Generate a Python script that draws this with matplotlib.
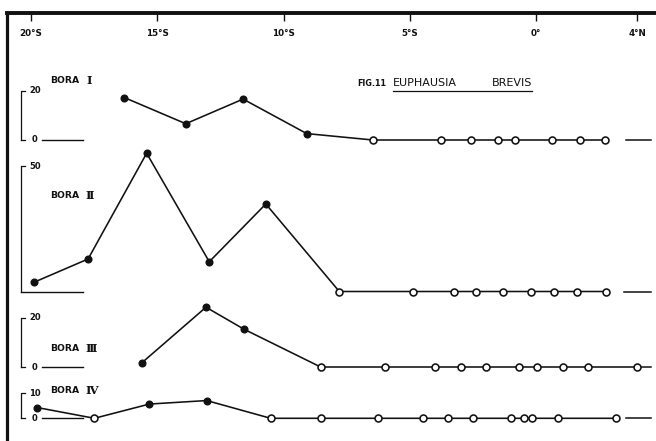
import matplotlib
matplotlib.use('Agg')
import matplotlib.pyplot as plt
import matplotlib.transforms as mtransforms

W, H = 656, 441
INK = '#111111'
FONT = ['DejaVu Sans']

# ---------------- data ----------------
lat_ticks = [-20, -15, -10, -5, 0, 4]
lat_tick_labels = ['20°S', '15°S', '10°S', '5°S', '0°', '4°N']

bora1_lat = [-16.3, -13.87, -11.6, -9.08, -6.46, -3.76, -2.57, -1.50, -0.83, 0.63, 1.74, 2.73]
bora1_val = [17.2, 6.6, 16.6, 2.6, 0, 0, 0, 0, 0, 0, 0, 0]

bora2_lat = [-19.88, -17.74, -15.42, -12.94, -10.7, -7.79, -4.88, -3.26, -2.38, -1.29, -0.20, 0.70, 1.61, 2.77]
bora2_val = [3.7, 13.0, 55.3, 11.9, 35.0, 0, 0, 0, 0, 0, 0, 0, 0, 0]

bora3_lat = [-15.6, -13.07, -11.56, -8.53, -5.97, -4.0, -2.97, -1.97, -0.69, 0.03, 1.06, 2.05, 3.99]
bora3_val = [1.8, 24.4, 15.4, 0, 0, 0, 0, 0, 0, 0, 0, 0, 0]

bora4_lat = [-19.75, -17.49, -15.31, -13.04, -10.51, -8.53, -6.27, -4.46, -3.50, -2.51, -0.99, -0.49, -0.16, 0.88, 3.17]
bora4_val = [4.3, 0, 5.7, 7.1, 0, 0, 0, 0, 0, 0, 0, 0, 0, 0, 0]

panel_word = 'BORA'
panel_numerals = ['Ⅰ', 'Ⅱ', 'Ⅲ', 'Ⅳ']
scale_tops = [20, 50, 20, 10]

# ---------------- layout ----------------
px_per_deg = 25.25
x_equator = 536.0
XLIM = (-x_equator / px_per_deg, (W - x_equator) / px_per_deg)

def lat_of(px):
    return (px - x_equator) / px_per_deg

fig = plt.figure(figsize=(W / 100, H / 100), dpi=100)
fig.patch.set_facecolor('white')

# frame axes (top latitude axis + left border)
frame_left = 7.0
frame_top = 12.5
fax = fig.add_axes([frame_left / W, 0, 1 - frame_left / W, 1 - frame_top / H])
fax.set_xlim(lat_of(frame_left), XLIM[1])
fax.set_ylim(0, 1)
fax.patch.set_alpha(0)
for s in ['right', 'bottom']:
    fax.spines[s].set_visible(False)
fax.spines['top'].set_linewidth(2.8)
fax.spines['left'].set_linewidth(2.3)
fax.spines['top'].set_color(INK)
fax.spines['left'].set_color(INK)
fax.xaxis.set_ticks_position('top')
fax.set_xticks(lat_ticks)
fax.tick_params(axis='x', direction='in', length=6, width=1.0, color=INK,
                labeltop=False, labelbottom=False)
fax.set_yticks([])
tr = mtransforms.blended_transform_factory(fax.transData, fig.transFigure)
for lt, lab in zip(lat_ticks, lat_tick_labels):
    fax.text(lt, 1 - 33.5 / H, lab, transform=tr, ha='center', va='center',
             fontsize=6.3, fontweight='bold', color=INK, family=FONT)

# panels: baseline pixel row, pixels per unit, label position (px)
panels = [
    dict(lat=bora1_lat, val=bora1_val, base=140.0, s=2.465, lab=(50, 80.5), num_x=86, stub_r=3.56),
    dict(lat=bora2_lat, val=bora2_val, base=291.5, s=2.50, lab=(50, 195.0), num_x=85, stub_r=3.49),
    dict(lat=bora3_lat, val=bora3_val, base=367.0, s=2.45, lab=(50, 348.5), num_x=85, stub_r=4.16),
    dict(lat=bora4_lat, val=bora4_val, base=418.3, s=2.50, lab=(50, 390.5), num_x=85, stub_r=3.56),
]

bracket_x = lat_of(21)
bracket_tick = lat_of(25)
stub_l0, stub_l1 = lat_of(42), lat_of(83)

for i, p in enumerate(panels):
    b, s = p['base'], p['s']
    top_px = b - 160
    bot_px = b + 15
    ax = fig.add_axes([0, 1 - bot_px / H, 1, (bot_px - top_px) / H])
    ax.set_xlim(*XLIM)
    ax.set_ylim(-15 / s, (b - top_px) / s)
    ax.axis('off')
    ax.patch.set_alpha(0)

    lat, val = p['lat'], p['val']
    ax.plot(lat, val, color=INK, lw=1.15, zorder=2, clip_on=False)
    filled = [(x, y) for x, y in zip(lat, val) if y > 0]
    empty = [(x, y) for x, y in zip(lat, val) if y == 0]
    if filled:
        ax.plot([f[0] for f in filled], [f[1] for f in filled], 'o', ms=4.8,
                color=INK, mec=INK, zorder=3, clip_on=False)
    if empty:
        ax.plot([e[0] for e in empty], [e[1] for e in empty], 'o', ms=5.0,
                mfc='white', mec=INK, mew=1.15, zorder=3, clip_on=False)

    top = scale_tops[i]
    # scale bracket
    ax.plot([bracket_tick, bracket_x, bracket_x], [top, top, 0], color=INK, lw=0.9,
            clip_on=False)
    if i == 1:
        ax.plot([bracket_x, stub_l1], [0, 0], color=INK, lw=1.0, clip_on=False)
    else:
        ax.plot([bracket_x, bracket_tick], [0, 0], color=INK, lw=0.9, clip_on=False)
        ax.plot([stub_l0, stub_l1], [0, 0], color=INK, lw=1.0, clip_on=False)
        ax.text(lat_of(34.5), 0, '0', ha='center', va='center', fontsize=6.0,
                fontweight='bold', color=INK, family=FONT)
    ax.text(lat_of(29.5), top, str(top), ha='left', va='center', fontsize=6.0,
            fontweight='bold', color=INK, family=FONT)
    # right stub
    ax.plot([p['stub_r'], lat_of(651)], [0, 0], color=INK, lw=1.1, clip_on=False)

    fig.text(p['lab'][0] / W, 1 - p['lab'][1] / H, panel_word, ha='left',
             va='center', fontsize=6.7, fontweight='bold', color=INK, family=FONT)
    fig.text(p['num_x'] / W, 1 - (p['lab'][1] + 0.5) / H, panel_numerals[i], ha='left',
             va='center', fontsize=8.2, fontweight='bold', color=INK,
             family=['DejaVu Serif', 'DejaVu Sans'])

# title
fig.text(357 / W, 1 - 83.5 / H, 'FIG.11', ha='left', va='center', fontsize=5.8,
         fontweight='bold', color=INK, family=FONT)
fig.text(393 / W, 1 - 82.5 / H, 'EUPHAUSIA', ha='left', va='center', fontsize=8,
         color=INK, family=FONT)
fig.text(532 / W, 1 - 82.5 / H, 'BREVIS', ha='right', va='center', fontsize=8,
         color=INK, family=FONT)
fax.plot([lat_of(393), lat_of(532)], [1 - (90.5 - frame_top) / (H - frame_top)] * 2,
         color=INK, lw=0.9, clip_on=False)

fig.savefig('out.png', dpi=100, facecolor='white')
